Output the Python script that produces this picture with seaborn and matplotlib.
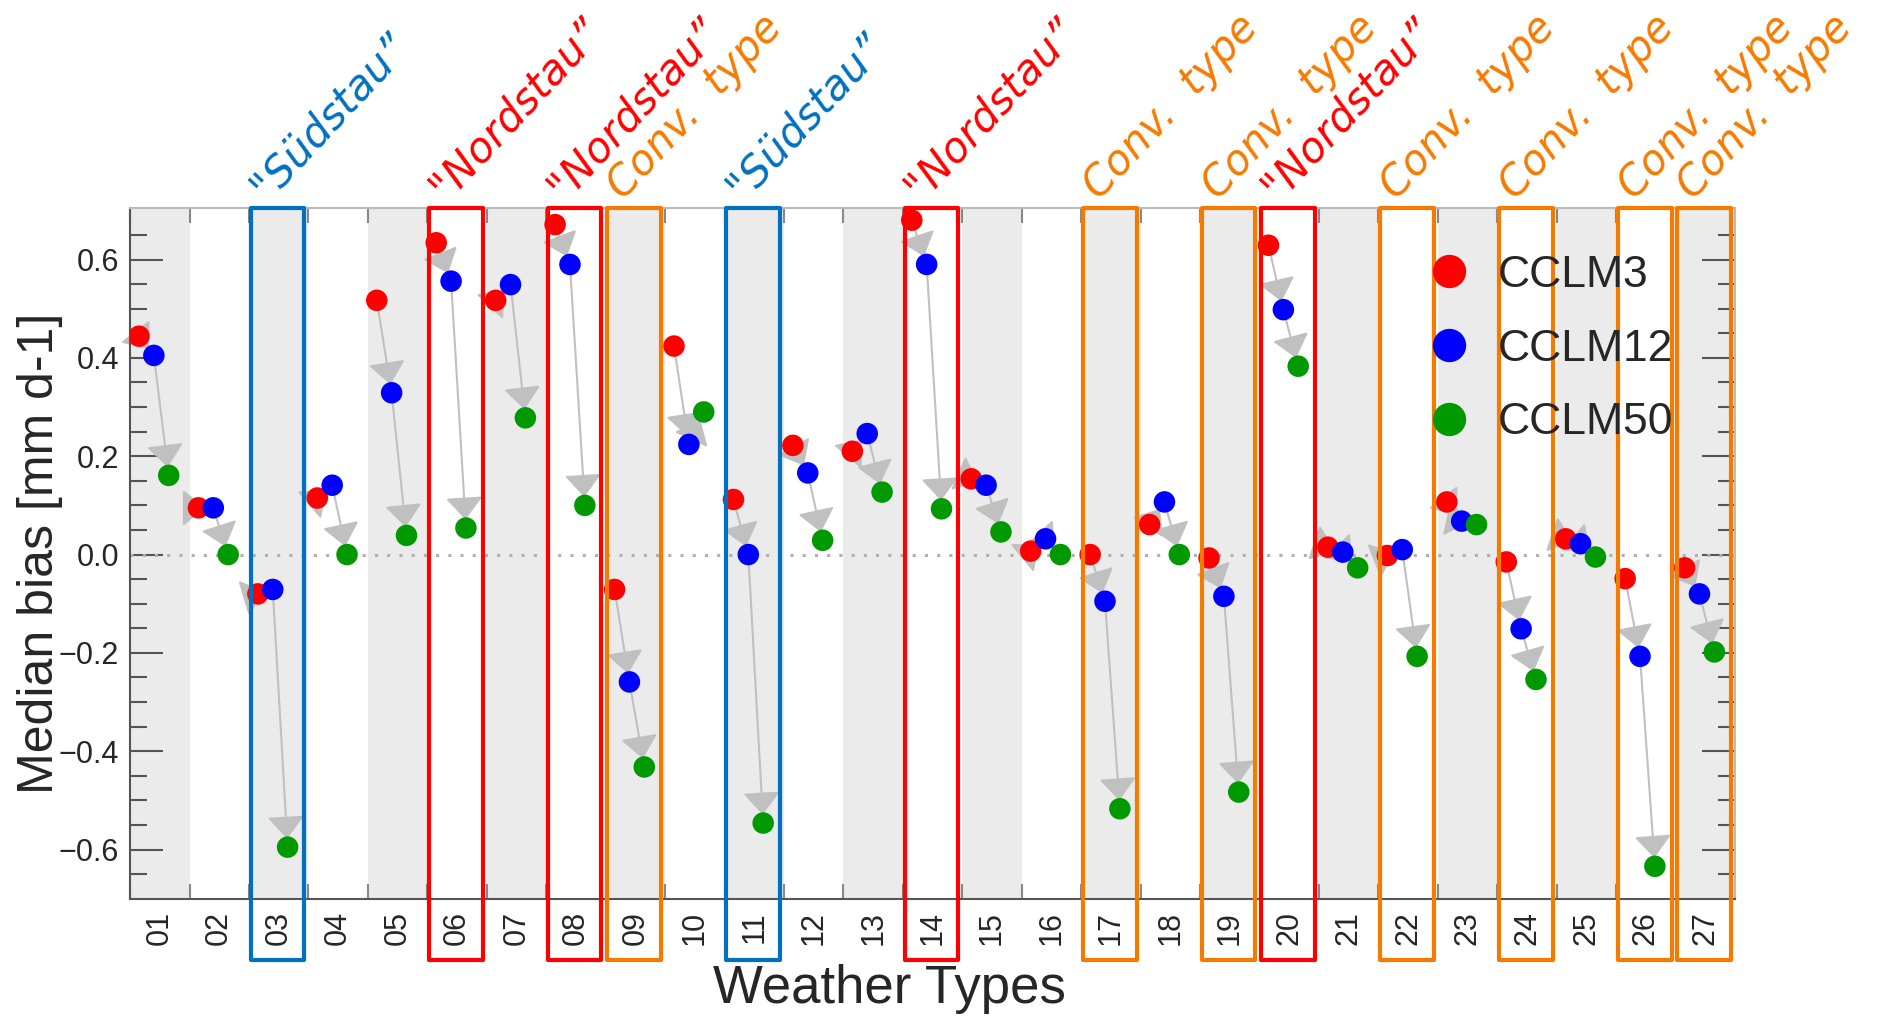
import numpy as np
import pandas as pd
import matplotlib
matplotlib.use("Agg")
import matplotlib.pyplot as plt
import matplotlib.transforms as mtransforms
from matplotlib.patches import Rectangle
from matplotlib.lines import Line2D
import seaborn as sns

# ---------------- data ----------------
weather_types = ["01", "02", "03", "04", "05", "06", "07", "08", "09", "10",
                 "11", "12", "13", "14", "15", "16", "17", "18", "19", "20",
                 "21", "22", "23", "24", "25", "26", "27"]
cclm3 = [0.444, 0.095, -0.080, 0.115, 0.517, 0.634, 0.517, 0.671, -0.071, 0.424,
         0.112, 0.222, 0.210, 0.680, 0.154, 0.007, 0.000, 0.061, -0.007, 0.629,
         0.015, -0.002, 0.107, -0.015, 0.032, -0.049, -0.027]
cclm12 = [0.405, 0.095, -0.071, 0.141, 0.329, 0.556, 0.549, 0.590, -0.259, 0.224,
          0.000, 0.166, 0.246, 0.590, 0.141, 0.032, -0.095, 0.107, -0.085, 0.498,
          0.005, 0.010, 0.068, -0.151, 0.022, -0.207, -0.080]
cclm50 = [0.161, 0.000, -0.595, 0.000, 0.039, 0.054, 0.278, 0.100, -0.432, 0.290,
          -0.546, 0.029, 0.127, 0.093, 0.046, 0.000, -0.517, 0.000, -0.483, 0.383,
          -0.027, -0.207, 0.061, -0.254, -0.005, -0.634, -0.198]
models = ["CCLM3", "CCLM12", "CCLM50"]
model_colors = ["#ff0000", "#0000ff", "#009a00"]

highlight_types = ["03", "06", "08", "09", "11", "14", "17", "19", "20", "22", "24", "26", "27"]
highlight_kinds = ["sued", "nord", "nord", "conv", "sued", "nord", "conv", "conv", "nord",
                   "conv", "conv", "conv", "conv"]
kind_labels = {"sued": "\"Südstau”", "nord": "\"Nordstau”", "conv": "Conv.  type"}
kind_colors = {"sued": "#0070c0", "nord": "#ff0000", "conv": "#f57a00"}

# ---------------- style ----------------
sns.set_style("white")
plt.rcParams["font.family"] = ["Liberation Sans", "DejaVu Sans"]

offsets = [-0.35, -0.10, 0.15]
series = [cclm3, cclm12, cclm50]
rows = []
for m, off, vals in zip(models, offsets, series):
    for i, v in enumerate(vals):
        rows.append({"x": i + off, "bias": v, "model": m, "wt": weather_types[i]})
df = pd.DataFrame(rows)

fig = plt.figure(figsize=(18.85, 10.19), dpi=100)
ax = fig.add_axes([0.069, 0.118, 0.8515, 0.678])

n = len(weather_types)
# alternating background bands
for i in range(0, n, 2):
    ax.axvspan(i - 0.5, i + 0.5, color="#ebebeb", zorder=0, lw=0)

# zero line
ax.axhline(0, color="#b0b0b0", lw=2.2, ls=(0, (1, 3)), zorder=1)

# arrows CCLM3 -> CCLM12 -> CCLM50
for i in range(n):
    pts = [(i + off, vals[i]) for off, vals in zip(offsets, series)]
    for a, b in [(pts[0], pts[1]), (pts[1], pts[2])]:
        ax.annotate("", xy=b, xytext=a, xycoords="data", textcoords="data",
                    arrowprops=dict(arrowstyle="-|>,head_length=0.7,head_width=0.58",
                                    color="#c0c0c0", lw=1.5, shrinkA=0, shrinkB=6,
                                    mutation_scale=20),
                    zorder=2)

sns.scatterplot(data=df, x="x", y="bias", hue="model", hue_order=models,
                palette=model_colors, s=240, linewidth=0, ax=ax, zorder=3,
                legend=False)

ax.set_xlim(-0.5, n - 0.5)
ax.set_ylim(-0.70, 0.705)

ax.set_xticks(range(n))
ax.set_xticklabels(weather_types, rotation=90, fontsize=22)
ax.set_xticks(np.arange(-0.5, n, 1.0), minor=True)
ax.tick_params(axis="x", which="major", length=0, pad=9)
ax.tick_params(axis="x", which="minor", direction="in", length=11, width=1.5,
               color="#888888", top=True, bottom=True)

ax.set_yticks(np.arange(-0.6, 0.61, 0.2))
ax.set_yticklabels([f"{v:.1f}".replace("-", "\u2212") for v in np.arange(-0.6, 0.61, 0.2)])
ax.set_yticks(np.arange(-0.65, 0.70, 0.05), minor=True)
ax.tick_params(axis="y", which="major", direction="in", length=24, width=1.5,
               color="#555555", left=True, right=True, labelsize=22, pad=8)
ax.tick_params(axis="y", which="minor", direction="in", length=12, width=1.5,
               color="#555555", left=True, right=True)

for side in ["left", "bottom"]:
    ax.spines[side].set_color("#555555")
    ax.spines[side].set_linewidth(1.5)
for side in ["top", "right"]:
    ax.spines[side].set_color("#bbbbbb")
    ax.spines[side].set_linewidth(1.5)

ax.set_xlabel("Weather Types", fontsize=38)
ax.xaxis.set_label_coords(0.473, -0.095)
ax.set_ylabel("Median bias [mm d-1]", fontsize=36)
ax.yaxis.set_label_coords(-0.042, 0.5)

# legend
handles = [Line2D([], [], ls="", marker="o", markersize=24, markerfacecolor=c,
                  markeredgewidth=0) for c in model_colors]
ax.legend(handles, models, loc="upper left", bbox_to_anchor=(0.797, 0.958),
          frameon=False, fontsize=32, labelspacing=0.74, handletextpad=0.6,
          handlelength=1.0, borderaxespad=0)

# highlight boxes and labels
trans = mtransforms.blended_transform_factory(ax.transData, ax.transAxes)
for wt, kind in zip(highlight_types, highlight_kinds):
    i = weather_types.index(wt)
    left = i - 0.5
    col = kind_colors[kind]
    rect = Rectangle((left + 0.03, -0.089), 0.90, 1.089, transform=trans,
                     fill=False, edgecolor=col, lw=3.0, clip_on=False, zorder=5,
                     joinstyle="round")
    ax.add_patch(rect)
    ax.text(left + 0.3, 1.01, kind_labels[kind], transform=trans, rotation=47,
            rotation_mode="anchor", ha="left", va="baseline", color=col,
            fontsize=30, family="DejaVu Sans", style="oblique", clip_on=False)

fig.savefig("out.png", dpi=100, facecolor="white")
